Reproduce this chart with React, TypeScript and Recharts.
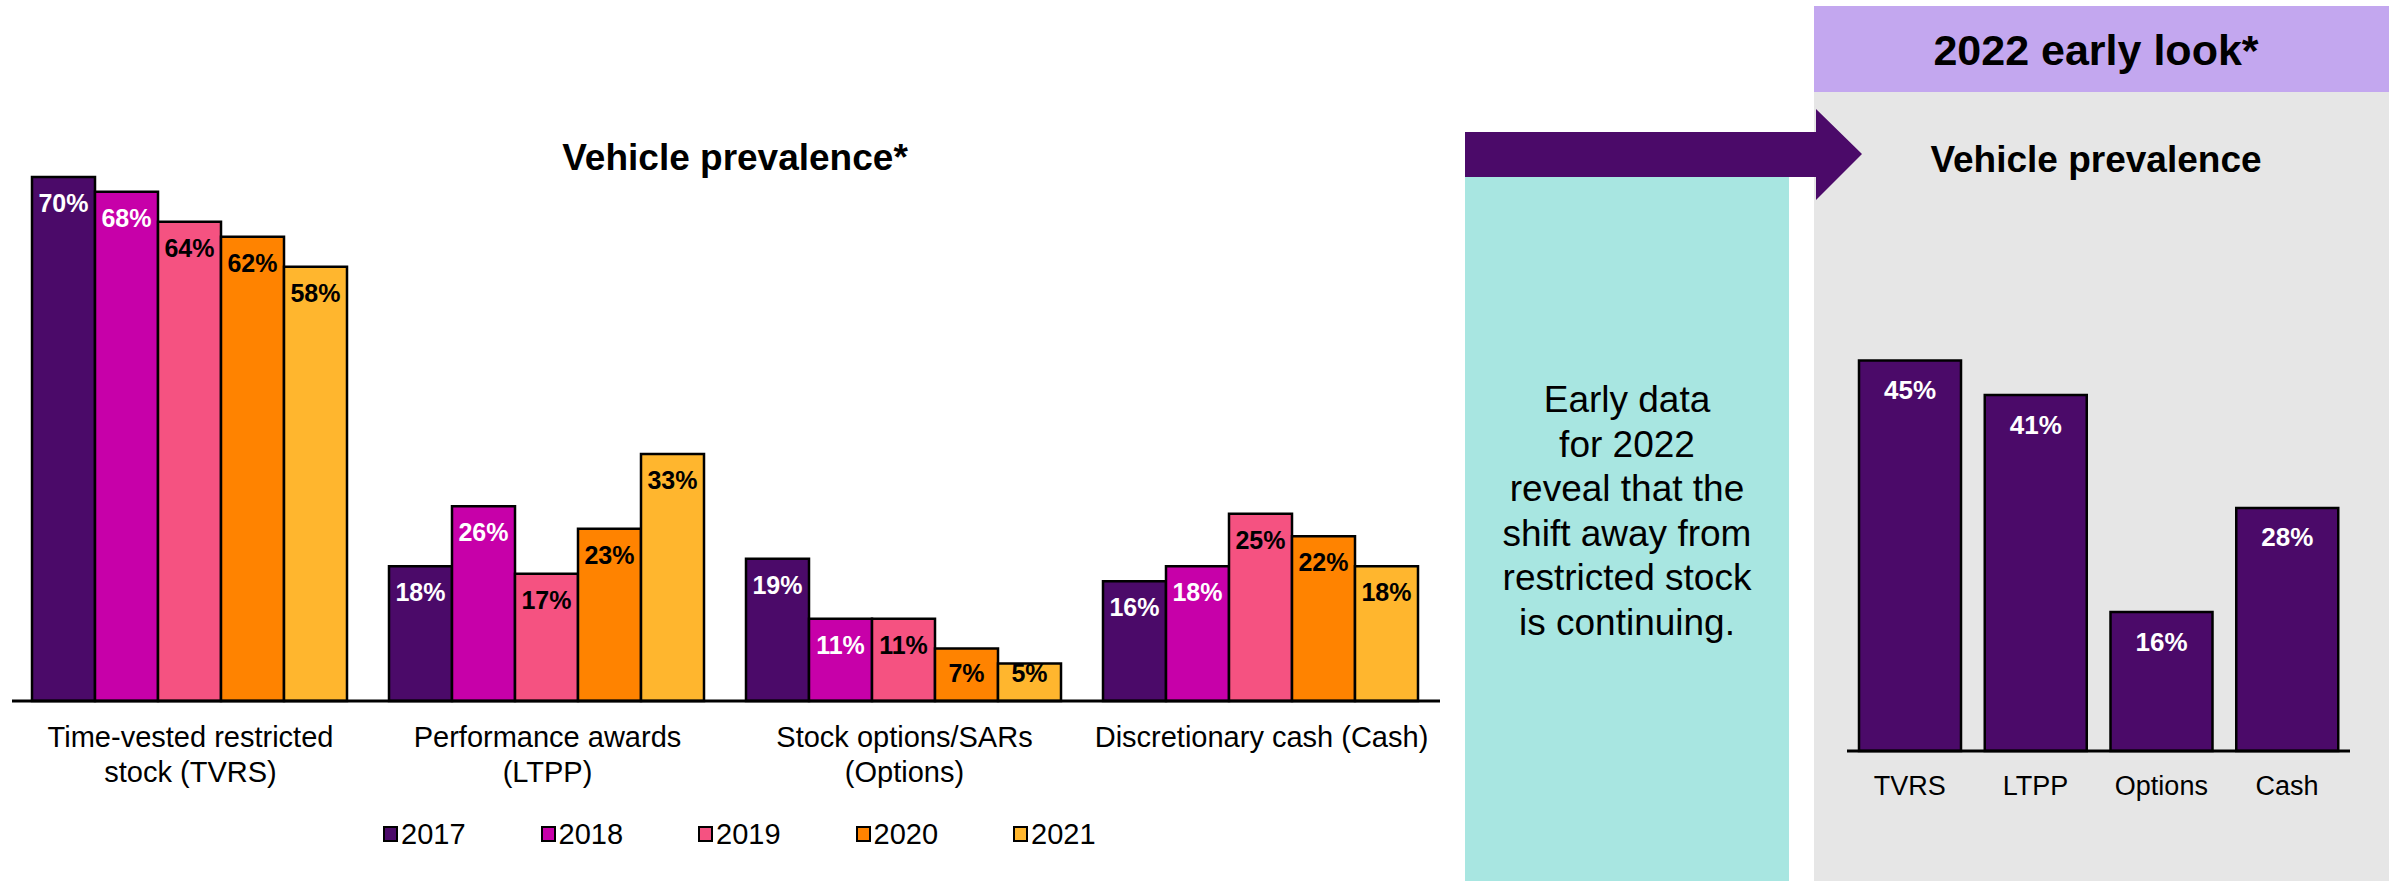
import React from "react";
import { BarChart, Bar, XAxis, YAxis, LabelList, Legend } from "recharts";

const FONT = "'Liberation Sans', Arial, sans-serif";

// 2017-2021 vehicle prevalence
const categories = [
  "Time-vested restricted\nstock (TVRS)",
  "Performance awards\n(LTPP)",
  "Stock options/SARs\n(Options)",
  "Discretionary cash (Cash)",
];
const years = ["2017", "2018", "2019", "2020", "2021"];
const v2017 = [70, 18, 19, 16];
const v2018 = [68, 26, 11, 18];
const v2019 = [64, 17, 11, 25];
const v2020 = [62, 23, 7, 22];
const v2021 = [58, 33, 5, 18];
const yearColors = ["#4B0A69", "#C700A9", "#F55281", "#FF8300", "#FFB62E"];
const labelColors = ["#FFFFFF", "#FFFFFF", "#000000", "#000000", "#000000"];

// 2022 early look
const earlyCategories = ["TVRS", "LTPP", "Options", "Cash"];
const v2022 = [45, 41, 16, 28];

const calloutLines = [
  "Early data",
  "for 2022",
  "reveal that the",
  "shift away from",
  "restricted stock",
  "is continuing.",
];

const seriesValues = [v2017, v2018, v2019, v2020, v2021];
const leftData = categories.map((name, i) => {
  const row: Record<string, string | number> = { name };
  years.forEach((y, j) => {
    row[y] = seriesValues[j][i];
  });
  return row;
});
const rightData = earlyCategories.map((name, i) => ({ name, value: v2022[i] }));

const pct = (v: any) => `${v}%`;

function LeftTick({ x, y, payload }: any) {
  const lines = String(payload.value).split("\n");
  return (
    <g>
      {lines.map((l, i) => (
        <text key={i} x={x} y={y + 46 + i * 35} textAnchor="middle" fontSize={29} fill="#000" fontFamily={FONT}>
          {l}
        </text>
      ))}
    </g>
  );
}

function RightTick({ x, y, payload }: any) {
  return (
    <text x={x} y={y + 44} textAnchor="middle" fontSize={27} fill="#000" fontFamily={FONT}>
      {payload.value}
    </text>
  );
}

// value label near the top of a bar, pushed up on very short bars
const makeBarLabel = (color: string) =>
  function BarLabel({ x, y, width, height, value }: any) {
    const base = Math.min(y + 35, y + height - 19);
    return (
      <text x={x + width / 2} y={base} textAnchor="middle" fontSize={25} fontWeight="bold" fill={color} fontFamily={FONT}>
        {pct(value)}
      </text>
    );
  };

function LegendContent({ payload }: any) {
  return (
    <div style={{ display: "flex", gap: 75, fontFamily: FONT }}>
      {(payload || []).map((entry: any) => (
        <div key={entry.value} style={{ display: "flex", alignItems: "center" }}>
          <span
            style={{
              display: "inline-block",
              width: 11,
              height: 12,
              background: entry.color,
              border: "2px solid #000",
              marginRight: 3,
            }}
          />
          <span style={{ fontSize: 29, color: "#000", lineHeight: "32px" }}>{entry.value}</span>
        </div>
      ))}
    </div>
  );
}

export default function App() {
  return (
    <div
      style={{
        position: "absolute",
        left: 0,
        top: 0,
        width: 2389,
        height: 881,
        background: "#fff",
        fontFamily: FONT,
        overflow: "hidden",
      }}
    >
      {/* right side panels */}
      <div style={{ position: "absolute", left: 1814, top: 6, width: 575, height: 86, background: "#C3A7EF" }} />
      <div style={{ position: "absolute", left: 1814, top: 92, width: 575, height: 789, background: "#E6E6E6" }} />
      <div style={{ position: "absolute", left: 1465, top: 177, width: 324, height: 704, background: "#A8E6E1" }} />

      <div style={{ position: "absolute", left: 0, top: 0 }}>
        <BarChart
          width={1450}
          height={881}
          data={leftData}
          margin={{ top: 102, right: 10, left: 12, bottom: 48 }}
          barCategoryGap={20}
          barGap={0}
        >
          <XAxis
            dataKey="name"
            tick={<LeftTick />}
            tickLine={false}
            tickSize={0}
            tickMargin={0}
            height={100}
            axisLine={{ stroke: "#000", strokeWidth: 3 }}
            interval={0}
          />
          <YAxis hide domain={[0, 80]} />
          <Legend
            content={<LegendContent />}
            verticalAlign="bottom"
            height={32}
            wrapperStyle={{ left: 383, top: 818, width: 760, height: 32 }}
          />
          {years.map((y, j) => (
            <Bar
              key={y}
              dataKey={y}
              fill={yearColors[j]}
              stroke="#000"
              strokeWidth={2.5}
              isAnimationActive={false}
            >
              <LabelList dataKey={y} content={makeBarLabel(labelColors[j])} />
            </Bar>
          ))}
        </BarChart>
      </div>

      <div style={{ position: "absolute", left: 1814, top: 92 }}>
        <BarChart
          width={575}
          height={789}
          data={rightData}
          margin={{ top: 225, right: 39, left: 33, bottom: 70 }}
          barCategoryGap={12}
        >
          <XAxis
            dataKey="name"
            tick={<RightTick />}
            tickLine={false}
            tickSize={0}
            tickMargin={0}
            height={60}
            axisLine={{ stroke: "#000", strokeWidth: 3 }}
            interval={0}
          />
          <YAxis hide domain={[0, 50]} />
          <Bar dataKey="value" fill="#4B0A69" stroke="#000" strokeWidth={2.5} isAnimationActive={false}>
            <LabelList
              dataKey="value"
              position="insideTop"
              offset={20}
              fill="#FFFFFF"
              stroke="none"
              fontSize={26}
              fontWeight="bold"
              fontFamily={FONT}
              formatter={pct}
            />
          </Bar>
        </BarChart>
      </div>

      {/* titles, arrow and callout text */}
      <svg
        width={2389}
        height={881}
        style={{ position: "absolute", left: 0, top: 0, pointerEvents: "none" }}
        fontFamily={FONT}
      >
        <polygon points="1465,132 1816,132 1816,109 1862,154 1816,200 1816,177 1465,177" fill="#4B0A69" />
        <text x={735} y={170} textAnchor="middle" fontSize={37} fontWeight="bold" fill="#000">
          Vehicle prevalence*
        </text>
        <text x={2096} y={65} textAnchor="middle" fontSize={43} fontWeight="bold" fill="#000">
          2022 early look*
        </text>
        <text x={2096} y={172} textAnchor="middle" fontSize={37} fontWeight="bold" fill="#000">
          Vehicle prevalence
        </text>
        {calloutLines.map((l, i) => (
          <text key={i} x={1627} y={412 + i * 44.6} textAnchor="middle" fontSize={37} fill="#000">
            {l}
          </text>
        ))}
      </svg>
    </div>
  );
}
